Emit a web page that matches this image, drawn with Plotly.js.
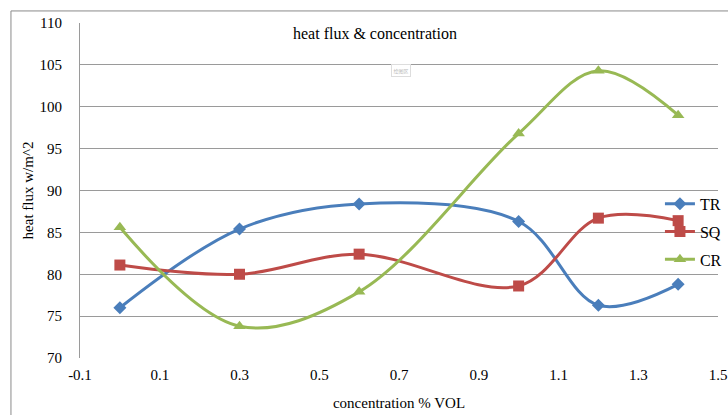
<!DOCTYPE html>
<html>
<head>
<meta charset="utf-8">
<script src="https://cdn.plot.ly/plotly-3.0.1.min.js"></script>
<style>html,body{margin:0;padding:0;background:#fff}#chart{width:728px;height:415px}</style>
</head>
<body>
<div id="chart"></div>
<script>
const concentration = [0, 0.3, 0.6, 1.0, 1.2, 1.4];
const TR = [76.0, 85.4, 88.4, 86.3, 76.3, 78.8];
const SQ = [81.1, 80.0, 82.4, 78.6, 86.7, 86.4];
const CR = [85.6, 73.8, 77.9, 96.8, 104.3, 99.0];
const xTicks = [-0.1, 0.1, 0.3, 0.5, 0.7, 0.9, 1.1, 1.3, 1.5];
const yTicks = [70, 75, 80, 85, 90, 95, 100, 105, 110];

const serif = "Liberation Serif";
function series(name, y, color, symbol, size) {
  return {
    x: concentration, y: y, name: name, type: 'scatter', mode: 'lines+markers',
    legendgroup: name,
    line: {color: color, width: 3, shape: 'spline', smoothing: 1},
    marker: {color: color, symbol: symbol, size: size}
  };
}
const data = [
  series('TR', TR, '#4A7EBB', 'diamond', 10),
  series('SQ', SQ, '#BE4B48', 'square', 11),
  series('CR', CR, '#98B954', 'triangle-up', 11)
];
const layout = {
  width: 728, height: 415,
  margin: {l: 80, r: 10, t: 23, b: 57, autoexpand: false},
  paper_bgcolor: '#fff', plot_bgcolor: '#fff',
  font: {family: serif, size: 15, color: '#000'},
  showlegend: true,
  legend: {x: 0.909, xanchor: 'left', y: 0.511, yanchor: 'top',
    bgcolor: 'rgba(0,0,0,0)', traceorder: 'grouped', tracegroupgap: 4,
    font: {family: serif, size: 16}},
  xaxis: {range: [-0.1, 1.5], tickvals: xTicks, ticktext: xTicks.map(v => v.toFixed(1)),
    showgrid: false, zeroline: false, showline: false, ticks: '', automargin: false,
    ticklabelstandoff: 6,
    tickfont: {family: serif, size: 15},
    title: {text: 'concentration % VOL', font: {family: serif, size: 15}, standoff: 15}},
  yaxis: {range: [70, 110], tickvals: yTicks, ticktext: yTicks.map(String),
    showgrid: true, gridcolor: '#9a9a9a', gridwidth: 1, zeroline: false,
    showline: true, linecolor: '#9a9a9a', ticks: '', automargin: false,
    ticklabelstandoff: 14,
    tickfont: {family: serif, size: 15},
    title: {text: 'heat flux w/m^2', font: {family: serif, size: 15}, standoff: 2}},
  annotations: [
    {text: 'heat flux & concentration', xref: 'paper', yref: 'paper', x: 0.462, y: 0.97,
     xanchor: 'center', yanchor: 'middle', showarrow: false, font: {family: serif, size: 16}},
    {text: '绘图区', xref: 'paper', yref: 'paper', x: 0.503, y: 0.879, showarrow: false,
     font: {family: 'Noto Sans CJK SC', size: 5, color: '#bbb'}, bordercolor: '#ddd', borderwidth: 1, borderpad: 1.5}
  ],
  shapes: [
    {type: 'rect', xref: 'paper', yref: 'paper', x0: -0.1082, x1: 1.2, y0: -0.3, y1: 1.036,
     line: {color: '#8a8a8a', width: 1}, fillcolor: 'rgba(0,0,0,0)', layer: 'below'}
  ]
};
Plotly.newPlot('chart', data, layout, {displayModeBar: false, staticPlot: true});
</script>
</body>
</html>
